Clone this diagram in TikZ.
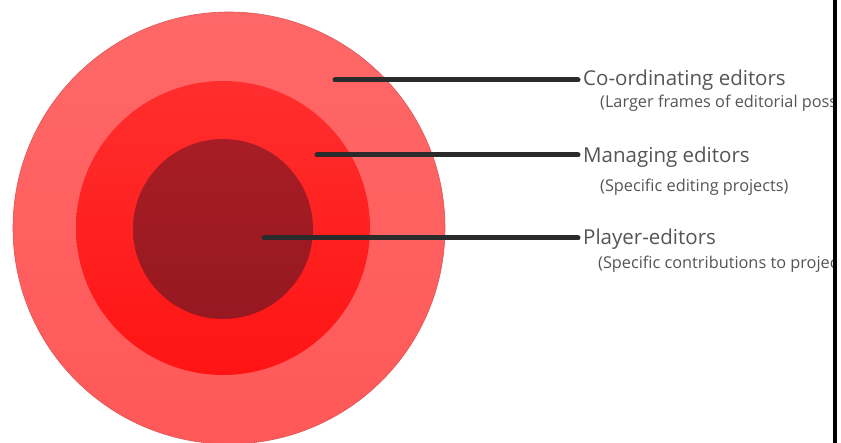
\documentclass[tikz,border=0pt]{standalone}
\usepackage{fontspec}
\setmainfont{Open Sans}
\begin{document}
\begin{tikzpicture}[x=1pt,y=-1pt,
  ring/.style={draw=#1!85!black, line width=0.6pt},
  leader/.style={draw=lineink, line width=5pt, line cap=round},
  head/.style={anchor=west, inner sep=0pt, text=textgray, font=\fontsize{20.5}{24}\selectfont},
  sub/.style={anchor=west, inner sep=0pt, text=textgray, font=\fontsize{16.3}{19}\selectfont}]
\definecolor{outerred}{HTML}{FF6868}
\definecolor{outerredlow}{HTML}{FF5858}
\definecolor{midred}{HTML}{FF2E2E}
\definecolor{midredlow}{HTML}{FF1414}
\definecolor{innerred}{HTML}{A81D25}
\definecolor{innerredlow}{HTML}{961820}
\definecolor{lineink}{HTML}{2B2B2B}
\definecolor{textgray}{HTML}{555555}
\useasboundingbox (0,0) rectangle (841,443);
\fill[white] (0,0) rectangle (841,443);

% concentric rings
\shade[top color=outerred, bottom color=outerredlow] (229,228) circle (216);
\draw[ring=outerred] (229,228) circle (216);
\shade[top color=midred, bottom color=midredlow] (223,228) circle (147);
\shade[top color=innerred, bottom color=innerredlow] (223,229) circle (90);

% anchor points of the leaders
\coordinate (p1) at (335,80);
\coordinate (p2) at (317,155);
\coordinate (p3) at (264,238);

% labels, running up to the frame edge
\node[head] (t1) at (583,80) {Co-ordinating editors};
\node[sub]  (s1) at (600,103) {(Larger frames of editorial poss};
\node[head] (t2) at (583,157) {Managing editors};
\node[sub]  (s2) at (600,187) {(Specific editing projects)};
\node[head] (t3) at (583,239) {Player-editors};
\node[sub]  (s3) at (598,264) {(Specific contributions to projec};

\draw[leader] (p1) -- ([xshift=-5pt]p1 -| t1.west);
\draw[leader] (p2) -- ([xshift=-5pt]p2 -| t2.west);
\draw[leader] (p3) -- ([xshift=-5pt]p3 -| t3.west);

% frame edge on the right
\fill[black] (833,0) rectangle (837,443);
\end{tikzpicture}
\end{document}
